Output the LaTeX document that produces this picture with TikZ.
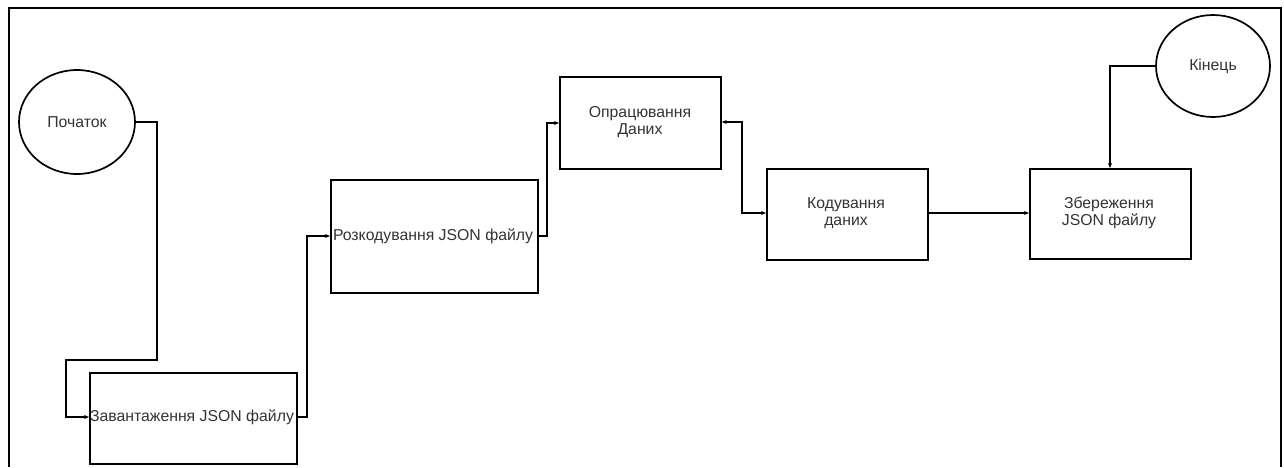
\documentclass[tikz,border=0pt]{standalone}
\usepackage{fontspec}
\setmainfont{Liberation Sans}
\usetikzlibrary{arrows.meta,shapes.geometric}
\definecolor{txt}{HTML}{333333}
\begin{document}
\begin{tikzpicture}[x=1pt,y=-1pt,
  every node/.style={font=\fontsize{15.8}{17}\selectfont, text=txt},
  blk/.style={draw, line width=1.7pt, rectangle, inner sep=0pt, align=center},
  term/.style={draw, line width=1.7pt, ellipse, inner sep=0pt},
  conn/.style={line width=1.4pt, -{Stealth[length=5pt,width=4pt]}}]
\useasboundingbox (0,0) rectangle (1284,467);
\draw[line width=1.5pt] (9,467) -- (9,8) -- (1281,8) -- (1281,467);

% terminals
\node[term, minimum width=116pt, minimum height=104pt] (start) at (77,122) {Початок};
\node[term, minimum width=114pt, minimum height=102pt] (end) at (1213,66) {Кінець};

% blocks
\node[blk, minimum width=207pt, minimum height=91pt, anchor=north west] (load) at (89,372) {};
\node at (192,417) {Завантаження JSON файлу};
\node[blk, minimum width=207pt, minimum height=113pt, anchor=north west] (dec) at (330,179) {};
\node at (433,236) {Розкодування JSON файлу};
\node[blk, minimum width=161pt, minimum height=92pt, anchor=north west] (proc) at (559,76) {};
\node[align=center] at (640,122) {Опрацювання\\Даних};
\node[blk, minimum width=161pt, minimum height=91pt, anchor=north west] (enc) at (766,168) {};
\node[align=center] at (846,213) {Кодування\\даних};
\node[blk, minimum width=161pt, minimum height=90pt, anchor=north west] (save) at (1029,168) {};
\node[align=center] at (1109,213) {Збереження\\JSON файлу};

% connectors
\coordinate (a1) at (157,122);
\coordinate (a2) at (157,360);
\coordinate (a3) at (66,360);
\coordinate (a4) at (66,417);
\draw[conn] (start.east) -- (a1) -- (a2) -- (a3) -- (a4) -- (load.west |- a4);

\coordinate (b1) at (307,417);
\coordinate (b2) at (307,236);
\draw[conn] (load.east |- b1) -- (b1) -- (b2) -- (dec.west |- b2);

\coordinate (c1) at (547,236);
\coordinate (c2) at (547,123);
\draw[conn] (dec.east |- c1) -- (c1) -- (c2) -- (proc.west |- c2);

\coordinate (d1) at (742,122);
\coordinate (d2) at (742,213);
\draw[line width=1.4pt, {Stealth[length=5pt,width=4pt]}-{Stealth[length=5pt,width=4pt]}] (proc.east |- d1) -- (d1) -- (d2) -- (enc.west |- d2);

\coordinate (e1) at (927,213);
\draw[conn] (enc.east |- e1) -- (save.west |- e1);

\coordinate (f1) at (1110,66);
\draw[conn] (end.west) -- (f1) -- (f1 |- save.north);
\end{tikzpicture}
\end{document}
